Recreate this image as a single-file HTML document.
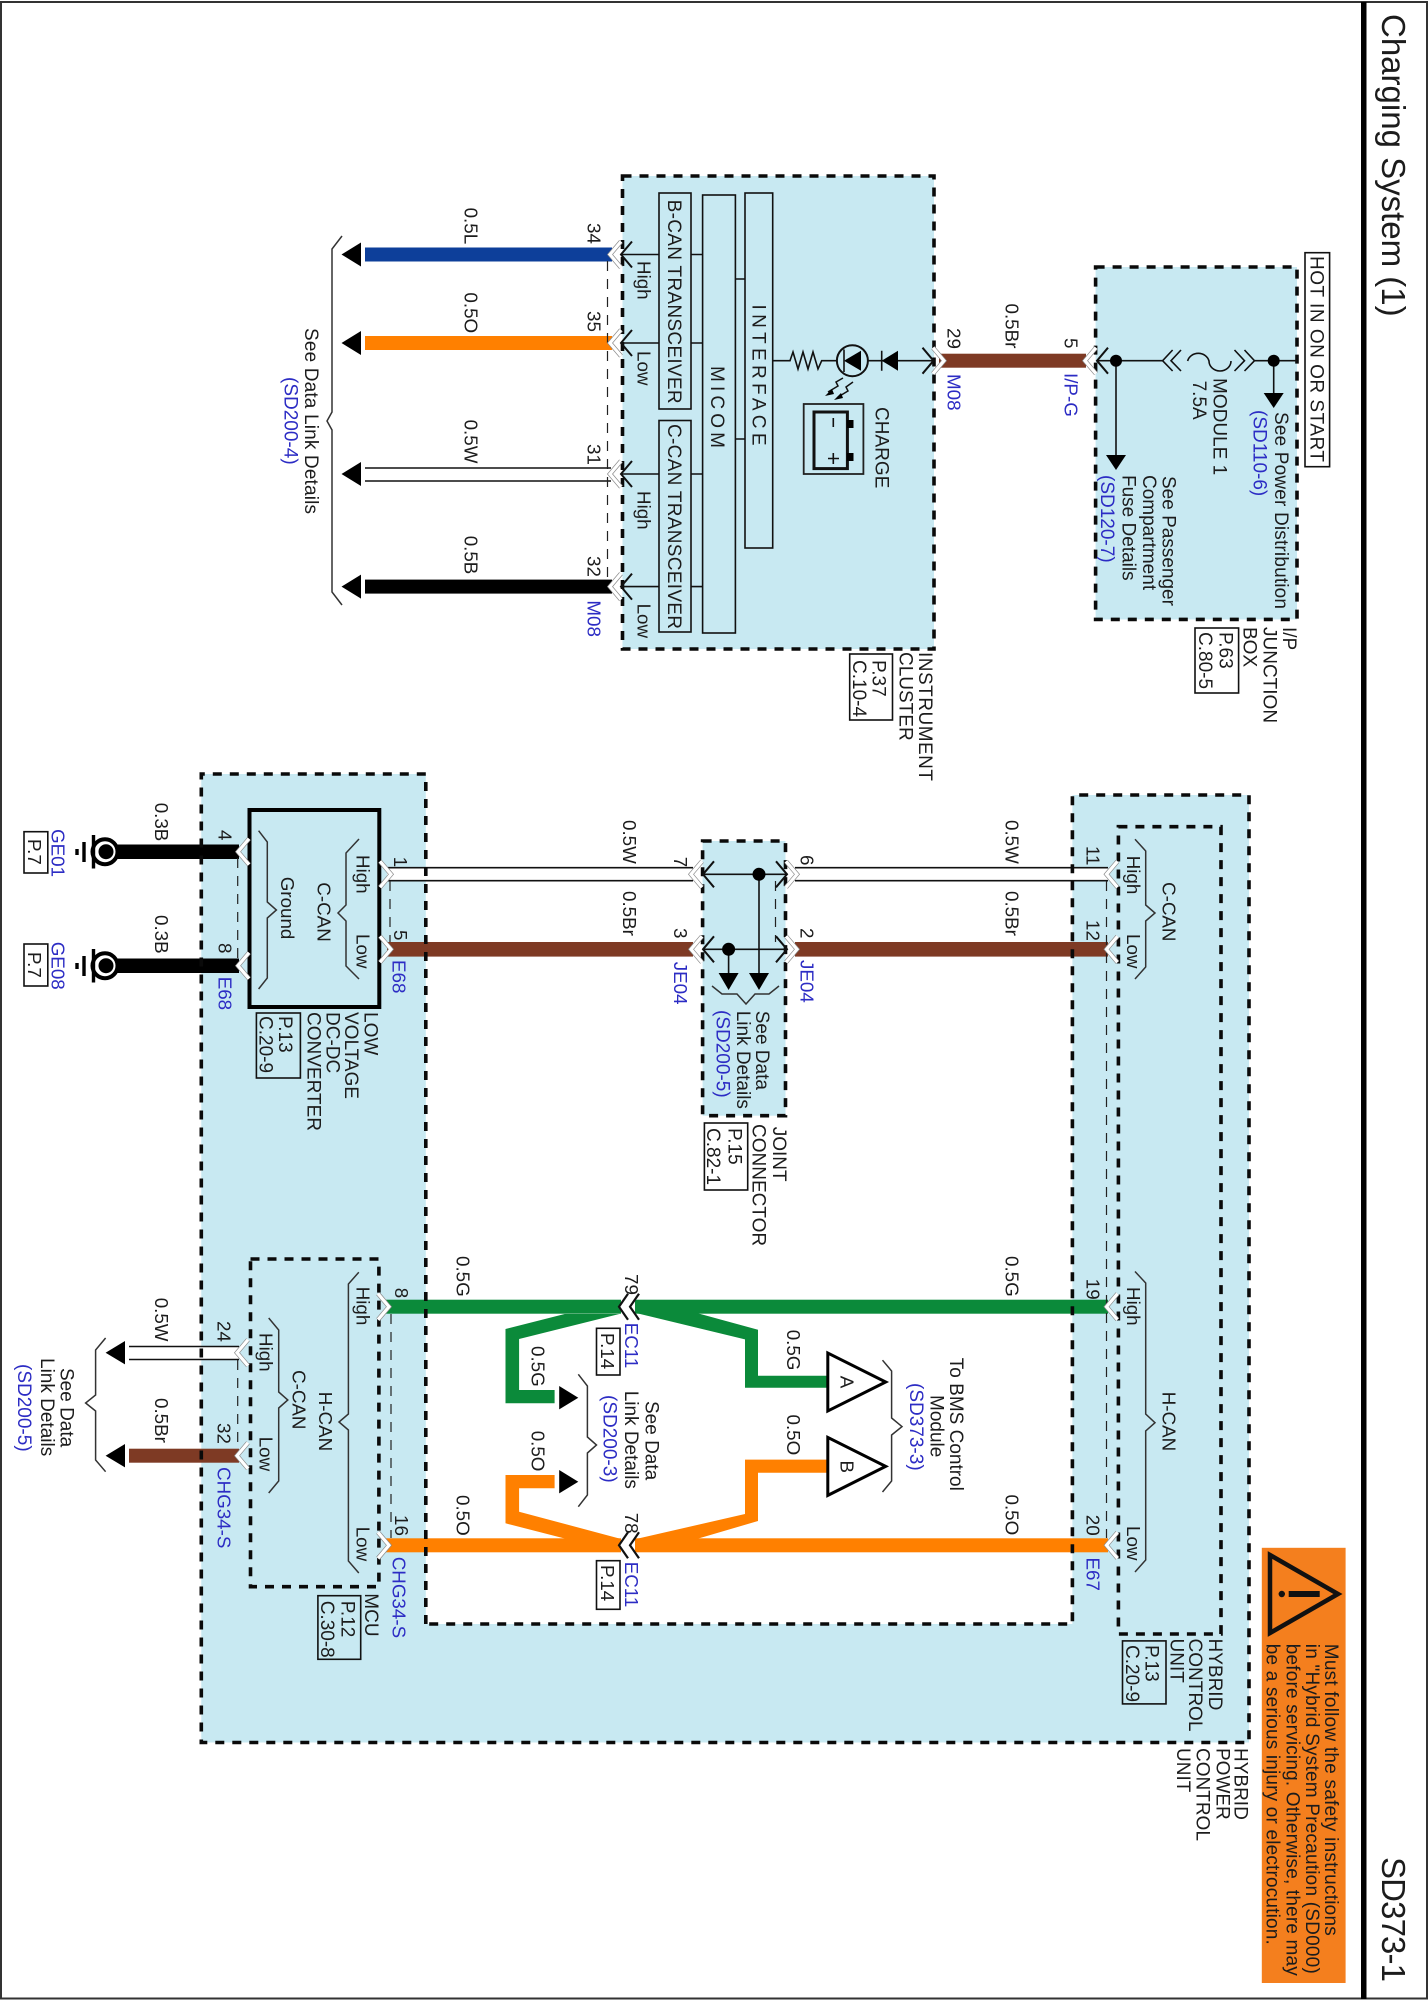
<!DOCTYPE html>
<html><head><meta charset="utf-8"><title>Charging System (1)</title>
<style>
html,body{margin:0;padding:0;background:#fff}
svg{display:block}
text{font-family:"Liberation Sans",sans-serif;font-size:19px;fill:#1c1c1c}
.b{fill:#2c2cc4}
.w{font-size:18.8px}
.T{font-size:33px}
.d{fill:none;stroke:#0a0a0a;stroke-width:3.6;stroke-dasharray:9 8}
.l{fill:none;stroke:#111;stroke-width:1.6}
.m{fill:none;stroke:#222;stroke-width:1.2;stroke-dasharray:10 8}
.br{fill:none;stroke:#333;stroke-width:1.5}
</style></head><body>
<svg xmlns="http://www.w3.org/2000/svg" width="1428" height="2000" viewBox="0 0 1428 2000">
<defs>
<path id="k" d="M11-13L0 0L11 13" fill="none" stroke="#111" stroke-width="2"/>
<g id="w"><path d="M11-13L0 0L11 13" fill="none" stroke="#8a8a8a" stroke-width="4.6"/><path d="M11-13L0 0L11 13" fill="none" stroke="#fff" stroke-width="3.2"/></g>
<g id="ec"><path d="M629-14L619 0L629 14L641 14L631 0L641-14Z" fill="#fff" transform="translate(-619 0)"/><path d="M9-13L0 0L9 13" fill="none" stroke="#111" stroke-width="2.2"/><path d="M20-13L11 0L20 13" fill="none" stroke="#111" stroke-width="2.2"/></g>
</defs>
<rect width="1428" height="2000" fill="#fff"/>
<rect x="1" y="2" width="1426" height="1996.5" fill="none" stroke="#333" stroke-width="2"/>
<rect x="1361" y="2" width="5.5" height="1997" fill="#000"/>
<text class="T" transform="translate(1382 14)rotate(90)">Charging System (1)</text>
<text class="T" transform="translate(1382 1857)rotate(90)" textLength="125">SD373-1</text>

<!-- filled areas -->
<rect x="622.5" y="176" width="311.5" height="473" fill="#c8e9f2"/>
<rect x="1095.6" y="267" width="201.4" height="352.4" fill="#c8e9f2"/>
<path d="M201.3 774H425.8V1624H1072.4V795H1249V1742.5H201.3Z" fill="#c8e9f2"/>
<rect x="702.6" y="841" width="82.9" height="274.7" fill="#c8e9f2"/>

<!-- wires -->
<rect x="365" y="247.5" width="247" height="14" fill="#0d3f9a"/>
<rect x="365" y="336" width="247" height="14" fill="#ff8000"/>
<rect x="365" y="468" width="246" height="13" fill="#fff"/>
<path d="M365 468H611M365 481H611" class="l"/>
<rect x="365" y="579.6" width="247" height="14" fill="#000"/>
<rect x="939" y="353.7" width="147" height="14" fill="#7e3a24"/>
<rect x="387" y="867.7" width="306" height="13" fill="#fff"/>
<path d="M387 867.7H693M387 880.7H693" class="l"/>
<rect x="387" y="942" width="306" height="14.6" fill="#7e3a24"/>
<rect x="795" y="867.7" width="313" height="13" fill="#fff"/>
<path d="M795 867.7H1108M795 880.7H1108" class="l"/>
<rect x="795" y="942" width="313" height="14.6" fill="#7e3a24"/>
<rect x="116" y="844.5" width="123" height="14.5" fill="#000"/>
<rect x="116" y="958.5" width="123" height="14.5" fill="#000"/>
<rect x="129" y="1346.5" width="110" height="13" fill="#fff"/>
<path d="M129 1346.5H239M129 1359.5H239" class="l"/>
<rect x="129" y="1448.7" width="110" height="14" fill="#7e3a24"/>
<rect x="386" y="1299.7" width="235" height="14" fill="#0b8a3a"/>
<rect x="635" y="1299.7" width="473" height="14" fill="#0b8a3a"/>
<rect x="386" y="1538.3" width="235" height="14" fill="#ff8000"/>
<rect x="635" y="1538.3" width="473" height="14" fill="#ff8000"/>
<polygon points="505.5,1329 564.7,1314 619.3,1314 519.1,1339 519.1,1390 554.6,1390 554.6,1403.3 505.5,1403.3" fill="#0b8a3a"/>
<polygon points="505.5,1475 554.6,1475 554.6,1488.3 519.1,1488.3 519.1,1511.7 619.3,1538.5 564.7,1538.5 505.5,1523.3" fill="#ff8000"/>
<polygon points="636,1313 696.7,1313 758,1329.7 758,1375.7 827.8,1375.7 827.8,1387.8 745,1387.8 745,1339.4" fill="#0b8a3a"/>
<polygon points="827.8,1459.6 745,1459.6 745,1514 636,1539 696.7,1539 758,1521 758,1472.7 827.8,1472.7" fill="#ff8000"/>

<!-- dashed boxes -->
<rect x="622.5" y="176" width="311.5" height="473" class="d"/>
<rect x="1095.6" y="267" width="201.4" height="352.4" class="d"/>
<path d="M425.8 1624V774H201.3V1742.5H1249V795H1072.4V1624Z" class="d"/>
<rect x="702.6" y="841" width="82.9" height="274.7" class="d"/>
<rect x="1118.4" y="826.7" width="102.6" height="807.3" class="d"/>
<rect x="250.5" y="1259" width="128.4" height="327.7" class="d"/>
<rect x="249.5" y="810" width="129.8" height="197" fill="#c8e9f2" stroke="#000" stroke-width="4"/>

<!-- pin dashed lines -->
<path d="M607.5 261V580M237.7 858V960M390 881V942M775.5 881V942M237.7 1360V1449M391 1314V1538M1106.5 881V1538" class="m"/>

<!-- instrument cluster internals -->
<rect x="659" y="193" width="32" height="216" class="l"/>
<rect x="659" y="420.5" width="32" height="211.5" class="l"/>
<rect x="702.6" y="195" width="32.8" height="438" class="l"/>
<rect x="745" y="193" width="27.7" height="355" class="l"/>
<path d="M621 254.5H659M691 254.5H702.6M621 343H659M691 343H702.6M621 474H659M691 474H702.6M621 586.6H659M691 586.6H702.6M735.4 279H745M735.4 439H745" class="l"/>
<path d="M772.7 360.7H790L793 352L798 369L803 352L808 369L813 352L818 369L821.7 360.7H837M867 360.7H933" class="l"/>
<circle cx="852.4" cy="360.7" r="15.5" fill="none" stroke="#111" stroke-width="2"/>
<polygon points="844,360.7 861,350.7 861,370.7" fill="#000"/>
<path d="M844 349.5V372M881.7 350.7V370.7" class="l"/>
<polygon points="881.7,360.7 898,350.7 898,370.7" fill="#000"/>
<path d="M843 378L836 382L838 386L828 392M853 382L846 387L848 391L838 397" fill="none" stroke="#111" stroke-width="1.5"/>
<polygon points="825,396 832,389 834,394" fill="#000"/><polygon points="834,400 841,393 843,398" fill="#000"/>
<rect x="803.7" y="404" width="59.7" height="70" fill="none" stroke="#222" stroke-width="1.8"/>
<rect x="814" y="412" width="33.4" height="56.6" fill="none" stroke="#111" stroke-width="3"/>
<rect x="847" y="420" width="6.5" height="8" fill="#000"/><rect x="847" y="453" width="6.5" height="8" fill="#000"/>
<path d="M833.3 418V427M833.3 453V464M828 458.5H839" class="l"/>
<polygon points="341.5,254.5 361,242.5 361,266.5" fill="#000"/>
<polygon points="341.5,343 361,331 361,355" fill="#000"/>
<polygon points="341.5,474 361,462 361,486" fill="#000"/>
<polygon points="341.5,586.6 361,574.6 361,598.6" fill="#000"/>
<path d="M342 236L332 249V412L327 421L332 430V592L342 605" class="br"/>

<!-- IP junction internals -->
<path d="M1097 360.7H1162.6M1254.5 360.7H1297M1116 360.7V455M1273.7 360.7V393" class="l"/>
<path d="M1187.6 361A11 10 0 0 1 1209 361A11 10 0 0 0 1231 361" class="l"/>
<path d="M1172.6 350L1162.6 360.7L1172.6 371M1181 350L1171 360.7L1181 371M1234.5 350L1244.5 360.7L1234.5 371M1244.5 350L1254.5 360.7L1244.5 371" class="l"/>
<circle cx="1116" cy="360.7" r="6" fill="#000"/><circle cx="1273.7" cy="360.7" r="6" fill="#000"/>
<polygon points="1106,455 1126,455 1116,470" fill="#000"/>
<polygon points="1263.7,393 1283.7,393 1273.7,408" fill="#000"/>

<!-- ground symbols -->
<circle cx="105" cy="851.7" r="12.5" fill="#fff" stroke="#000" stroke-width="4"/><circle cx="106" cy="851.7" r="7.5" fill="#000"/>
<circle cx="105" cy="965.7" r="12.5" fill="#fff" stroke="#000" stroke-width="4"/><circle cx="106" cy="965.7" r="7.5" fill="#000"/>
<path d="M93.5 835V868.5M84 842V862M77 849V855M93.5 949V982.5M84 956V976M77 963V969" stroke="#000" stroke-width="3.4" fill="none"/>

<!-- joint internals -->
<path d="M703 874.3H787M703 949.3H787M759 874.3V973M728.6 949.3V973" class="l"/>
<circle cx="759" cy="874.3" r="6.5" fill="#000"/><circle cx="728.6" cy="949.3" r="6.5" fill="#000"/>
<polygon points="718.6,973 738.6,973 728.6,990" fill="#000"/>
<polygon points="749,973 769,973 759,990" fill="#000"/>
<path d="M712 986L722 994H737L746 1004L755 994H769L779 986" class="br"/>

<!-- braces -->
<path d="M359 839L346 853V905L338 913L346 921V966L359 979" class="br"/>
<path d="M258.6 830.7L267.3 842V902L276.4 910L267.3 918V978L258.6 989" class="br"/>
<path d="M1135 839.3L1145.7 851V905L1155 913L1145.7 921V967L1135 979" class="br"/>
<path d="M358.8 1272.3L348.4 1284V1414L339 1422L348.4 1430V1561L358.8 1573" class="br"/>
<path d="M268.7 1318L278.7 1330V1392L287.8 1400L278.7 1408V1481L268.7 1493" class="br"/>
<path d="M1135 1271.5L1145.7 1283V1414L1155 1422.7L1145.7 1431V1560L1135 1572" class="br"/>
<path d="M105.6 1338L95.6 1350V1395L85.6 1403L95.6 1411V1460L105.6 1471.7" class="br"/>
<path d="M578.3 1374.3L587.4 1386V1437L596.5 1445L587.4 1453V1495L578.3 1506.7" class="br"/>
<path d="M882.5 1360.2L891.6 1371V1418L902 1426.6L891.6 1435V1481L882.5 1492" class="br"/>
<polygon points="105.6,1352.7 125,1341 125,1364.4" fill="#000"/>
<polygon points="105.6,1455.7 125,1444 125,1467.4" fill="#000"/>
<polygon points="578.3,1397.7 559.2,1386 559.2,1409.4" fill="#000"/>
<polygon points="578.3,1481.7 559.2,1470 559.2,1493.4" fill="#000"/>
<polygon points="827.8,1353 827.8,1411 885.7,1382" fill="#fff" stroke="#000" stroke-width="3"/>
<polygon points="827.8,1437.4 827.8,1495.4 885.7,1466.4" fill="#fff" stroke="#000" stroke-width="3"/>

<!-- chevrons -->
<use href="#w" x="610" y="254.5"/><use href="#k" x="621" y="254.5"/>
<use href="#w" x="610" y="343"/><use href="#k" x="621" y="343"/>
<use href="#w" x="610" y="474"/><use href="#k" x="621" y="474"/>
<use href="#w" x="610" y="586.6"/><use href="#k" x="621" y="586.6"/>
<use href="#k" transform="translate(933.5 360.7) scale(-1 1)"/><use href="#w" transform="translate(944 360.7) scale(-1 1)"/>
<use href="#w" x="1085" y="360.7"/><use href="#k" x="1097" y="360.7"/>
<use href="#w" transform="translate(391 874.3) scale(-1 1)"/><use href="#w" transform="translate(391 949.3) scale(-1 1)"/>
<use href="#w" x="691" y="874.3"/><use href="#k" x="703" y="874.3"/>
<use href="#w" x="691" y="949.3"/><use href="#k" x="703" y="949.3"/>
<use href="#k" transform="translate(787 874.3) scale(-1 1)"/><use href="#w" transform="translate(797 874.3) scale(-1 1)"/>
<use href="#k" transform="translate(787 949.3) scale(-1 1)"/><use href="#w" transform="translate(797 949.3) scale(-1 1)"/>
<use href="#w" x="1106.5" y="874.3"/><use href="#w" x="1106.5" y="949.3"/>
<use href="#w" x="1106.5" y="1306.7"/><use href="#w" x="1106.5" y="1545.3"/>
<use href="#w" x="238" y="851.7"/><use href="#w" x="238" y="965.7"/>
<use href="#w" x="237" y="1352.7"/><use href="#w" x="237" y="1455.7"/>
<use href="#w" transform="translate(389 1306.7) scale(-1 1)"/><use href="#w" transform="translate(389 1545.3) scale(-1 1)"/>
<use href="#ec" x="619" y="1306.7"/><use href="#ec" x="619" y="1545.3"/>

<!-- small boxes -->
<rect x="1305" y="252.7" width="24.6" height="214" class="l"/>
<rect x="1195" y="628" width="43.6" height="65" class="l"/>
<rect x="849.7" y="654" width="42.8" height="66" class="l"/>
<rect x="24" y="831.7" width="23.8" height="41.3" class="l"/>
<rect x="24" y="944" width="23.8" height="42" class="l"/>
<rect x="256.4" y="1013" width="44" height="65" class="l"/>
<rect x="704.4" y="1123" width="43.3" height="67" class="l"/>
<rect x="317.9" y="1595.7" width="42.8" height="63.6" class="l"/>
<rect x="596.5" y="1328.3" width="23.5" height="46.7" class="l"/>
<rect x="596.5" y="1560.7" width="23.5" height="48.6" class="l"/>
<rect x="1122.5" y="1640.9" width="43.5" height="63" class="l"/>

<!-- warning -->
<rect x="1261.8" y="1547.8" width="83.8" height="435.2" fill="#f47f1e"/>
<polygon points="1270,1555 1270,1633 1338,1594" fill="none" stroke="#111" stroke-width="4.5"/>
<rect x="1288.7" y="1591" width="31" height="6" fill="#111"/><circle cx="1281.8" cy="1594" r="3.2" fill="#111"/>
<text transform="translate(1325 1643.8)rotate(90)" textLength="292">Must follow the safety instructions</text>
<text transform="translate(1306 1643.8)rotate(90)" textLength="330">in "Hybrid System Precaution (SD000)</text>
<text transform="translate(1286.4 1643.8)rotate(90)" textLength="332">before servicing. Otherwise, there may</text>
<text transform="translate(1266.4 1643.8)rotate(90)" textLength="301">be a serious injury or electrocution.</text>

<!-- IC labels -->
<text class="w" transform="translate(464.5 207.6)rotate(90)">0.5L</text>
<text class="w" transform="translate(464.5 292.4)rotate(90)">0.5O</text>
<text class="w" transform="translate(464.5 419.6)rotate(90)">0.5W</text>
<text class="w" transform="translate(464.5 535.7)rotate(90)">0.5B</text>
<text class="w" transform="translate(587.5 223)rotate(90)">34</text>
<text class="w" transform="translate(587.5 311)rotate(90)">35</text>
<text class="w" transform="translate(587.5 444)rotate(90)">31</text>
<text class="w" transform="translate(587.5 556)rotate(90)">32</text>
<text class="w b" transform="translate(587.5 600.4)rotate(90)">M08</text>
<text class="w" transform="translate(637.5 261)rotate(90)">High</text>
<text class="w" transform="translate(637.5 351)rotate(90)">Low</text>
<text class="w" transform="translate(637.5 491)rotate(90)">High</text>
<text class="w" transform="translate(637.5 603.6)rotate(90)">Low</text>
<text transform="translate(668 199.6)rotate(90)" textLength="204">B-CAN TRANSCEIVER</text>
<text transform="translate(668 424)rotate(90)" textLength="205">C-CAN TRANSCEIVER</text>
<text transform="translate(711 366)rotate(90)" textLength="82">MICOM</text>
<text transform="translate(752.7 304.5)rotate(90)" textLength="141">INTERFACE</text>
<text transform="translate(875.6 407)rotate(90)">CHARGE</text>
<text transform="translate(305 328)rotate(90)" textLength="186">See Data Link Details</text>
<text class="b" transform="translate(284.6 377)rotate(90)">(SD200-4)</text>
<text transform="translate(919 652)rotate(90)" textLength="129">INSTRUMENT</text>
<text transform="translate(899.3 652)rotate(90)">CLUSTER</text>
<text transform="translate(872.5 660)rotate(90)">P.37</text>
<text transform="translate(853 660)rotate(90)">C.10-4</text>

<!-- IP labels -->
<text class="w" transform="translate(1005.4 303.5)rotate(90)">0.5Br</text>
<text class="w" transform="translate(947.6 328)rotate(90)">29</text>
<text class="w" transform="translate(1064.6 338)rotate(90)">5</text>
<text class="w b" transform="translate(947.6 374)rotate(90)">M08</text>
<text class="w b" transform="translate(1064.6 373)rotate(90)">I/P-G</text>
<text transform="translate(1310.5 256)rotate(90)" textLength="206">HOT IN ON OR START</text>
<text transform="translate(1275 412)rotate(90)" textLength="197">See Power Distribution</text>
<text class="b" transform="translate(1253.6 410)rotate(90)">(SD110-6)</text>
<text transform="translate(1213.5 378)rotate(90)">MODULE 1</text>
<text transform="translate(1193 380.6)rotate(90)">7.5A</text>
<text transform="translate(1162.5 476)rotate(90)">See Passenger</text>
<text transform="translate(1143 475)rotate(90)">Compartment</text>
<text transform="translate(1122.5 475)rotate(90)">Fuse Details</text>
<text class="b" transform="translate(1101 475)rotate(90)">(SD120-7)</text>
<text transform="translate(1283 627)rotate(90)">I/P</text>
<text transform="translate(1263.6 627)rotate(90)">JUNCTION</text>
<text transform="translate(1243.6 627)rotate(90)">BOX</text>
<text transform="translate(1219.5 632)rotate(90)">P.63</text>
<text transform="translate(1199 632)rotate(90)">C.80-5</text>

<!-- DC-DC labels -->
<text class="w" transform="translate(154.8 802.7)rotate(90)">0.3B</text>
<text class="w" transform="translate(154.8 915)rotate(90)">0.3B</text>
<text class="w b" transform="translate(51.5 829)rotate(90)">GE01</text>
<text class="w b" transform="translate(51.5 941.7)rotate(90)">GE08</text>
<text class="w" transform="translate(28 839)rotate(90)">P.7</text>
<text class="w" transform="translate(28 952)rotate(90)">P.7</text>
<text class="w" transform="translate(218.6 830)rotate(90)">4</text>
<text class="w" transform="translate(218.6 943)rotate(90)">8</text>
<text class="w b" transform="translate(218.6 976.7)rotate(90)">E68</text>
<text class="w" transform="translate(394 856.7)rotate(90)">1</text>
<text class="w" transform="translate(394 930)rotate(90)">5</text>
<text class="w b" transform="translate(392.5 960)rotate(90)">E68</text>
<text class="w" transform="translate(356.5 855)rotate(90)">High</text>
<text class="w" transform="translate(356.5 934)rotate(90)">Low</text>
<text class="w" transform="translate(317.4 882.3)rotate(90)">C-CAN</text>
<text class="w" transform="translate(281 876.7)rotate(90)">Ground</text>
<text transform="translate(364.3 1012)rotate(90)">LOW</text>
<text transform="translate(345 1012)rotate(90)">VOLTAGE</text>
<text transform="translate(326.5 1012)rotate(90)">DC-DC</text>
<text transform="translate(307.4 1012)rotate(90)">CONVERTER</text>
<text transform="translate(279 1016)rotate(90)">P.13</text>
<text transform="translate(259.6 1016)rotate(90)">C.20-9</text>

<!-- joint labels -->
<text class="w" transform="translate(623 820)rotate(90)">0.5W</text>
<text class="w" transform="translate(623 891)rotate(90)">0.5Br</text>
<text class="w" transform="translate(674 856.7)rotate(90)">7</text>
<text class="w" transform="translate(674 928)rotate(90)">3</text>
<text class="w b" transform="translate(674 961.7)rotate(90)">JE04</text>
<text class="w" transform="translate(800.5 855)rotate(90)">6</text>
<text class="w" transform="translate(800.5 928)rotate(90)">2</text>
<text class="w b" transform="translate(800.5 960)rotate(90)">JE04</text>
<text class="w" transform="translate(1005.4 820)rotate(90)">0.5W</text>
<text class="w" transform="translate(1005.4 891)rotate(90)">0.5Br</text>
<text class="w" transform="translate(1086.5 846)rotate(90)">11</text>
<text class="w" transform="translate(1086.5 920)rotate(90)">12</text>
<text transform="translate(756 1010.7)rotate(90)">See Data</text>
<text transform="translate(736.8 1010.7)rotate(90)">Link Details</text>
<text class="b" transform="translate(716.3 1010)rotate(90)">(SD200-5)</text>
<text transform="translate(773 1126.7)rotate(90)">JOINT</text>
<text transform="translate(752.7 1124)rotate(90)">CONNECTOR</text>
<text transform="translate(728.6 1128)rotate(90)">P.15</text>
<text transform="translate(707 1128)rotate(90)">C.82-1</text>

<!-- HCU labels -->
<text class="w" transform="translate(1127 855.7)rotate(90)">High</text>
<text class="w" transform="translate(1127 934)rotate(90)">Low</text>
<text class="w" transform="translate(1162.5 882)rotate(90)">C-CAN</text>
<text class="w" transform="translate(1127 1287)rotate(90)">High</text>
<text class="w" transform="translate(1127 1526)rotate(90)">Low</text>
<text class="w" transform="translate(1162.5 1391.7)rotate(90)">H-CAN</text>
<text class="w" transform="translate(1086.5 1278.8)rotate(90)">19</text>
<text class="w" transform="translate(1086.5 1514.8)rotate(90)">20</text>
<text class="w b" transform="translate(1086.5 1557.5)rotate(90)">E67</text>
<text transform="translate(1209 1638.5)rotate(90)">HYBRID</text>
<text transform="translate(1189 1638.5)rotate(90)">CONTROL</text>
<text transform="translate(1170.7 1638.5)rotate(90)">UNIT</text>
<text transform="translate(1145.7 1645)rotate(90)">P.13</text>
<text transform="translate(1126 1645)rotate(90)">C.20-9</text>
<text transform="translate(1234.5 1748)rotate(90)">HYBRID</text>
<text transform="translate(1216.3 1748)rotate(90)">POWER</text>
<text transform="translate(1196.7 1748)rotate(90)">CONTROL</text>
<text transform="translate(1177 1748)rotate(90)">UNIT</text>

<!-- MCU labels -->
<text class="w" transform="translate(356.5 1286.7)rotate(90)">High</text>
<text class="w" transform="translate(356.5 1526.7)rotate(90)">Low</text>
<text class="w" transform="translate(318.8 1391.7)rotate(90)">H-CAN</text>
<text class="w" transform="translate(259.6 1333)rotate(90)">High</text>
<text class="w" transform="translate(259.6 1436.7)rotate(90)">Low</text>
<text class="w" transform="translate(292.4 1370)rotate(90)">C-CAN</text>
<text class="w" transform="translate(395 1287.7)rotate(90)">8</text>
<text class="w" transform="translate(395 1515)rotate(90)">16</text>
<text class="w b" transform="translate(392.5 1556.7)rotate(90)">CHG34-S</text>
<text class="w" transform="translate(217.7 1321)rotate(90)">24</text>
<text class="w" transform="translate(217.7 1423)rotate(90)">32</text>
<text class="w b" transform="translate(217.7 1467)rotate(90)">CHG34-S</text>
<text class="w" transform="translate(154.8 1297.7)rotate(90)">0.5W</text>
<text class="w" transform="translate(154.8 1398)rotate(90)">0.5Br</text>
<text transform="translate(60.6 1368)rotate(90)">See Data</text>
<text transform="translate(41 1358)rotate(90)">Link Details</text>
<text class="b" transform="translate(18.2 1364)rotate(90)">(SD200-5)</text>
<text transform="translate(365.2 1593.3)rotate(90)">MCU</text>
<text transform="translate(341.5 1600.7)rotate(90)">P.12</text>
<text transform="translate(321 1600.7)rotate(90)">C.30-8</text>

<!-- central labels -->
<text class="w" transform="translate(456.7 1256)rotate(90)">0.5G</text>
<text class="w" transform="translate(456.7 1495)rotate(90)">0.5O</text>
<text class="w" transform="translate(1005.4 1256)rotate(90)">0.5G</text>
<text class="w" transform="translate(1005.4 1494.5)rotate(90)">0.5O</text>
<text class="w" transform="translate(531.4 1346)rotate(90)">0.5G</text>
<text class="w" transform="translate(531.4 1430.7)rotate(90)">0.5O</text>
<text class="w" transform="translate(786.9 1329.7)rotate(90)">0.5G</text>
<text class="w" transform="translate(786.9 1414.5)rotate(90)">0.5O</text>
<text class="w" transform="translate(624.8 1274)rotate(90)">79</text>
<text class="w" transform="translate(624.8 1512.7)rotate(90)">78</text>
<text class="w b" transform="translate(624.8 1322.7)rotate(90)">EC11</text>
<text class="w b" transform="translate(624.8 1561.7)rotate(90)">EC11</text>
<text class="w" transform="translate(601 1333)rotate(90)">P.14</text>
<text class="w" transform="translate(601 1565)rotate(90)">P.14</text>
<text class="w" transform="translate(840.6 1375.7)rotate(90)">A</text>
<text class="w" transform="translate(840.6 1460.5)rotate(90)">B</text>
<text transform="translate(645.7 1401)rotate(90)">See Data</text>
<text transform="translate(625 1390.7)rotate(90)">Link Details</text>
<text class="b" transform="translate(603.4 1395)rotate(90)">(SD200-3)</text>
<text transform="translate(949.9 1357.8)rotate(90)">To BMS Control</text>
<text transform="translate(930.3 1395)rotate(90)">Module</text>
<text class="b" transform="translate(909.8 1383)rotate(90)">(SD373-3)</text>
</svg>
</body></html>
